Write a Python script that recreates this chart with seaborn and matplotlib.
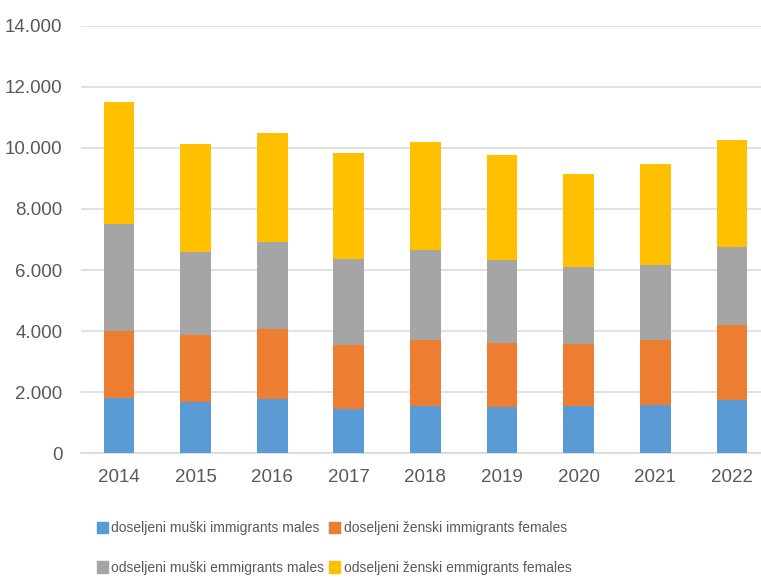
import pandas as pd
import matplotlib.pyplot as plt
import seaborn as sns
from matplotlib.patches import Patch
from matplotlib.ticker import FuncFormatter

# Data
years = ['2014', '2015', '2016', '2017', '2018', '2019', '2020', '2021', '2022']
imm_males = [1800, 1695, 1770, 1465, 1550, 1510, 1550, 1585, 1740]
imm_females = [2190, 2185, 2305, 2075, 2145, 2110, 2025, 2110, 2445]
emm_males = [3530, 2720, 2830, 2820, 2950, 2720, 2525, 2460, 2580]
emm_females = [3980, 3530, 3575, 3465, 3530, 3410, 3030, 3320, 3475]

labels = ['doseljeni muški immigrants males', 'doseljeni ženski immigrants females',
          'odseljeni muški emmigrants males', 'odseljeni ženski emmigrants females']
colors = ['#5b9bd5', '#ed7d31', '#a5a5a5', '#ffc000']

df = pd.DataFrame({'year': years, 'm_in': imm_males, 'f_in': imm_females,
                   'm_out': emm_males, 'f_out': emm_females})
# cumulative tops for stacking
df['c1'] = df['m_in']
df['c2'] = df['c1'] + df['f_in']
df['c3'] = df['c2'] + df['m_out']
df['c4'] = df['c3'] + df['f_out']

sns.set_theme(style="white")
plt.rcParams['font.family'] = ['Liberation Sans Narrow', 'Liberation Sans', 'DejaVu Sans']

fig = plt.figure(figsize=(7.61, 5.78), dpi=100)
ax = fig.add_axes([0.106, 0.2157, 0.906, 0.740])

# draw from tallest to shortest so each layer shows as a stacked segment
for col, color in zip(['c4', 'c3', 'c2', 'c1'], colors[::-1]):
    sns.barplot(data=df, x='year', y=col, color=color, width=0.4,
                saturation=1, ax=ax, zorder=3, linewidth=0)

ax.set_ylim(0, 14000)
ax.set_xlim(-0.5, 8.5)
ax.set_yticks(range(0, 14001, 2000))
ax.yaxis.set_major_formatter(FuncFormatter(lambda v, p: f'{int(v):,}'.replace(',', '.')))
ax.grid(axis='y', color='#dcdcdc', linewidth=1.2, zorder=0)
ax.set_axisbelow(True)
for s in ['top', 'right', 'left']:
    ax.spines[s].set_visible(False)
ax.spines['bottom'].set_color('#d9d9d9')
ax.spines['bottom'].set_linewidth(1.2)
ax.set_xlabel('')
ax.set_ylabel('')
ax.tick_params(axis='both', length=0, labelsize=13.5, colors='#595959')
ax.tick_params(axis='y', pad=13)
ax.tick_params(axis='x', pad=11)

# legend fills column-first, so order handles to get two rows as in the source
order = [0, 2, 1, 3]
handles = [Patch(color=colors[i]) for i in order]
fig.legend(handles, [labels[i] for i in order], ncol=2, loc='center left',
           bbox_to_anchor=(0.118, 0.052), frameon=False, borderpad=0,
           fontsize=10, labelcolor='#595959', handlelength=0.8,
           handleheight=0.85, handletextpad=0.25, columnspacing=0.35, labelspacing=1.85)

fig.savefig('out.png', dpi=100)
